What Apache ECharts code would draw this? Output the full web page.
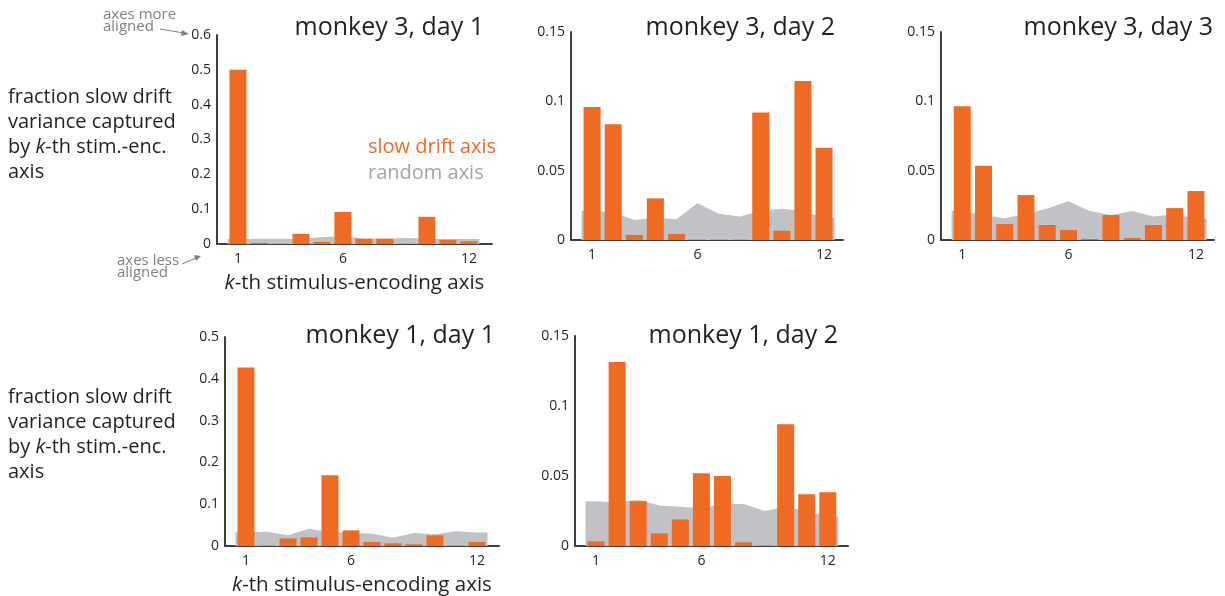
<!DOCTYPE html>
<html>
<head>
<meta charset="utf-8">
<script src="https://cdn.jsdelivr.net/npm/echarts@6/dist/echarts.min.js"></script>
<style>
  html, body { margin: 0; padding: 0; background: #ffffff; }
  #chart { width: 1225px; height: 596px; }
</style>
</head>
<body>
<div id="chart"></div>
<script>
// Stimulus-encoding axis index k
const kAxis = [1, 2, 3, 4, 5, 6, 7, 8, 9, 10, 11, 12];
const xTickLabels = [1, 6, 12];

// Fraction of slow-drift variance captured by the k-th axis (slow drift axis)
const m3d1Drift = [0.50, 0.003, 0.001, 0.029, 0.006, 0.092, 0.015, 0.015, 0.001, 0.078, 0.012, 0.008];
const m3d2Drift = [0.096, 0.0835, 0.0036, 0.030, 0.0043, 0.0003, 0.0003, 0.0003, 0.092, 0.0067, 0.1147, 0.0665];
const m3d3Drift = [0.0965, 0.0535, 0.0115, 0.0324, 0.0108, 0.0072, 0.0007, 0.018, 0.0014, 0.0108, 0.023, 0.0353];
const m1d1Drift = [0.427, 0.001, 0.018, 0.0207, 0.169, 0.0375, 0.0096, 0.0064, 0.004, 0.0255, 0.001, 0.0096];
const m1d2Drift = [0.0033, 0.1314, 0.032, 0.009, 0.019, 0.052, 0.050, 0.0026, 0.0003, 0.087, 0.037, 0.0384];

// Same quantity for a random axis
const m3d1Random = [0.014, 0.015, 0.015, 0.014, 0.020, 0.022, 0.016, 0.015, 0.017, 0.015, 0.014, 0.014];
const m3d2Random = [0.021, 0.020, 0.0145, 0.016, 0.015, 0.0265, 0.019, 0.017, 0.021, 0.0225, 0.021, 0.016];
const m3d3Random = [0.021, 0.018, 0.0157, 0.019, 0.0228, 0.028, 0.021, 0.018, 0.021, 0.017, 0.0185, 0.0155];
const m1d1Random = [0.033, 0.034, 0.026, 0.041, 0.033, 0.031, 0.030, 0.020, 0.031, 0.028, 0.035, 0.032];
const m1d2Random = [0.032, 0.031, 0.033, 0.029, 0.028, 0.027, 0.030, 0.030, 0.025, 0.028, 0.025, 0.021];

const panelTitles = ['monkey 3, day 1', 'monkey 3, day 2', 'monkey 3, day 3', 'monkey 1, day 1', 'monkey 1, day 2'];
const yMaxima = [0.6, 0.15, 0.15, 0.5, 0.15];
const yIntervals = [0.1, 0.05, 0.05, 0.1, 0.05];

const driftSets = [m3d1Drift, m3d2Drift, m3d3Drift, m1d1Drift, m1d2Drift];
const randomSets = [m3d1Random, m3d2Random, m3d3Random, m1d1Random, m1d2Random];

// Panel placement: grid box, right end of the x axis (in k units), title anchor
const layout = [
  { left: 217, top: 35,  width: 275, height: 209, xMax: 13.1,  titleX: 484,  titleY: 28,  xName: true },
  { left: 571, top: 32,  width: 272, height: 208, xMax: 12.9,  titleX: 835,  titleY: 28,  xName: false },
  { left: 941, top: 32,  width: 273, height: 208, xMax: 12.85, titleX: 1213, titleY: 28,  xName: false },
  { left: 225, top: 337, width: 274, height: 209, xMax: 13.05, titleX: 495,  titleY: 336, xName: true },
  { left: 575, top: 336, width: 273, height: 210, xMax: 12.96, titleX: 838,  titleY: 336, xName: false }
];

const FONT = '"Open Sans", "Noto Sans", sans-serif';
const ORANGE = '#ef6a23';
const GREY_AREA = '#c1c2c5';
const INK = '#231f20';
const AXIS = '#3e3e3e';

const grids = [], xAxes = [], yAxes = [], series = [], graphics = [];

layout.forEach((p, i) => {
  grids.push({
    left: p.left, top: p.top, width: p.width, height: p.height,
    containLabel: false, outerBoundsMode: 'none'
  });

  xAxes.push({
    type: 'value', gridIndex: i, min: 0, max: p.xMax, interval: 1,
    axisLine: { show: true, onZero: false, lineStyle: { color: AXIS, width: 2 } },
    axisTick: { show: false },
    splitLine: { show: false },
    axisLabel: {
      show: true, margin: 8, color: INK, fontFamily: FONT, fontSize: 14,
      showMinLabel: false, showMaxLabel: false,
      formatter: v => (xTickLabels.indexOf(Math.round(v * 1000) / 1000) >= 0 ? String(Math.round(v)) : '')
    },
    name: p.xName ? '{i|k}-th stimulus-encoding axis' : '',
    nameLocation: 'middle', nameGap: 29,
    nameTextStyle: {
      color: INK, fontFamily: FONT, fontSize: 20.5,
      rich: { i: { fontStyle: 'italic', fontFamily: FONT, fontSize: 20.5, color: INK } }
    }
  });

  yAxes.push({
    type: 'value', gridIndex: i, min: 0, max: yMaxima[i], interval: yIntervals[i],
    axisLine: { show: true, lineStyle: { color: AXIS, width: 2 } },
    axisTick: { show: false },
    splitLine: { show: false },
    axisLabel: { margin: 6, color: INK, fontFamily: FONT, fontSize: 14, formatter: v => String(+v.toFixed(3)) }
  });

  // Random-axis band, held flat out to the edges of the first and last bars
  const rnd = randomSets[i];
  const areaData = [[0.5, rnd[0]]].concat(kAxis.map((k, j) => [k, rnd[j]]), [[12.5, rnd[rnd.length - 1]]]);
  series.push({
    type: 'line', xAxisIndex: i, yAxisIndex: i, data: areaData,
    symbol: 'none', silent: true, z: 1,
    lineStyle: { width: 0, opacity: 0 },
    areaStyle: { color: GREY_AREA, opacity: 1 }
  });

  series.push({
    type: 'bar', xAxisIndex: i, yAxisIndex: i,
    data: kAxis.map((k, j) => [k, driftSets[i][j]]),
    barWidth: 17, z: 2, silent: true,
    itemStyle: { color: ORANGE }
  });

  graphics.push({
    type: 'text', x: p.titleX, y: p.titleY,
    style: { text: panelTitles[i], font: '25px ' + FONT, fill: INK, textAlign: 'right', textVerticalAlign: 'middle' }
  });
});

// Shared y-axis description, once per row
const yDescription = 'fraction slow drift\nvariance captured\nby {i|k}-th stim.-enc.\naxis';
[135, 435].forEach(cy => {
  graphics.push({
    type: 'text', x: 8, y: cy,
    style: {
      text: yDescription, fontFamily: FONT, fontSize: 20, fill: INK, lineHeight: 25,
      textVerticalAlign: 'middle',
      rich: { i: { fontStyle: 'italic', fontFamily: FONT, fontSize: 20, fill: INK, lineHeight: 25 } }
    }
  });
});

// Legend in the first panel
graphics.push(
  { type: 'text', x: 368, y: 147, style: { text: 'slow drift axis', font: '20px ' + FONT, fill: ORANGE, textVerticalAlign: 'middle' } },
  { type: 'text', x: 368, y: 173, style: { text: 'random axis', font: '20px ' + FONT, fill: '#a3a4a7', textVerticalAlign: 'middle' } }
);

// Annotations on the first y axis
const NOTE = '#808080';
graphics.push(
  { type: 'text', x: 103, y: 21, style: { text: 'axes more\naligned', font: '15px ' + FONT, fill: NOTE, lineHeight: 12, textVerticalAlign: 'middle' } },
  { type: 'line', shape: { x1: 160, y1: 29, x2: 184, y2: 33 }, style: { stroke: NOTE, lineWidth: 1 } },
  { type: 'polygon', shape: { points: [[189, 34], [182, 30], [181, 36]] }, style: { fill: NOTE } },
  { type: 'text', x: 117, y: 267, style: { text: 'axes less\naligned', font: '15px ' + FONT, fill: NOTE, lineHeight: 12, textVerticalAlign: 'middle' } },
  { type: 'line', shape: { x1: 182, y1: 264, x2: 196, y2: 258 }, style: { stroke: NOTE, lineWidth: 1 } },
  { type: 'polygon', shape: { points: [[201, 256], [194, 255], [196, 261]] }, style: { fill: NOTE } }
);

const chart = echarts.init(document.getElementById('chart'), null, { renderer: 'canvas' });
chart.setOption({
  animation: false,
  backgroundColor: '#ffffff',
  grid: grids,
  xAxis: xAxes,
  yAxis: yAxes,
  series: series,
  graphic: graphics
});
</script>
</body>
</html>
